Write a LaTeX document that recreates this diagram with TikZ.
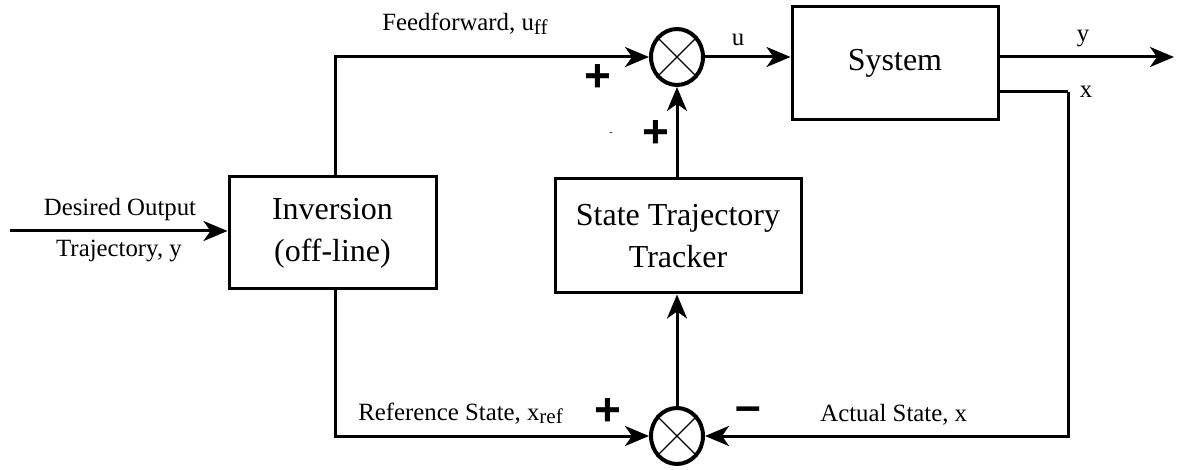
\documentclass[tikz,border=0pt]{standalone}
\usepackage{fontspec}
\setmainfont{Liberation Serif}
\newfontfamily\signfont{Liberation Sans}
\usetikzlibrary{arrows.meta,shapes.geometric}
\begin{document}
\begin{tikzpicture}[x=0.5pt,y=-0.5pt,
  blk/.style={draw,line width=1.5pt,align=center,inner sep=0pt,font=\fontsize{16}{21}\selectfont},
  sumnode/.style={draw,ellipse,line width=2pt,minimum width=26pt,minimum height=28pt,inner sep=0pt},
  wire/.style={line width=1.5pt},
  arr/.style={wire,-{Stealth[length=12pt,width=10pt,inset=3.5pt]}},
  lbl/.style={font=\fontsize{12.4}{14}\selectfont,inner sep=0pt},
  sub/.style={},
  sgn/.style={font=\signfont\bfseries\fontsize{23}{23}\selectfont,inner sep=0pt},
  crs/.style={line width=0.6pt}]
\useasboundingbox (0,0) rectangle (1178,470);
% blocks
\node[blk,minimum width=103.5pt,minimum height=56pt] (inv) at (332.5,233) {Inversion\\(off-line)};
\node[blk,minimum width=123pt,minimum height=57pt] (trk) at (678,236) {State Trajectory\\Tracker};
\node[blk,minimum width=103pt,minimum height=56.5pt,font=\fontsize{16}{19}\selectfont] (sys) at (895,63.5) {System};
% summing junctions
\node[sumnode] (s1) at (677,57) {};
\node[sumnode] (s2) at (677,436) {};
\draw[crs] (s1.45) -- (s1.-135) (s1.135) -- (s1.-45);
\draw[crs] (s2.45) -- (s2.-135) (s2.135) -- (s2.-45);
% coordinates
\coordinate (in) at (10,231);
\coordinate (out) at (1174,57);
\coordinate (xc) at (1068,92);
% connectors
\draw[arr] (in) -- (in -| inv.west);
\draw[arr] (inv.north -| 335,0) |- (s1.west);
\draw[arr] (inv.south -| 335,0) |- (s2.west);
\draw[arr] (s1.east) -- (s1.east -| sys.west);
\draw[arr] (s1.east -| sys.east) -- (out);
\draw[wire] (sys.east |- xc) -- (xc);
\draw[arr] (xc) |- (s2.east);
\draw[arr] (s2.north) -- (s2 |- trk.south);
\draw[arr] (trk.north -| s1) -- (s1.south);
% labels
\node[lbl,anchor=base] (l1) at (120,216) {Desired Output};
\node[lbl,anchor=base] (l2) at (119,257) {Trajectory, y};
\node[lbl,anchor=base west] (l3) at (382,31) {Feedforward, u\raisebox{-0.35ex}{\fontsize{10.5}{11}\selectfont ff}};
\node[lbl] (l4) at (738,40) {u};
\node[lbl] (l5) at (1083,38) {y};
\node[lbl] (l6) at (1086,92) {x};
\node[lbl,anchor=base west] (l7) at (358,420) {Reference State, x\raisebox{-0.35ex}{\fontsize{10.5}{11}\selectfont ref}};
\node[lbl,anchor=base west] (l8) at (820,421) {Actual State, x};
% signs
\node[sgn] (p1) at (598,78) {+};
\node[sgn] (p2) at (656,134) {+};
\node[sgn] (p3) at (608,412) {+};
\node[sgn] (m1) at (748,414) {–};
\node[lbl,font=\fontsize{5}{5}\selectfont] (d1) at (611,134) {-};
\end{tikzpicture}
\end{document}
